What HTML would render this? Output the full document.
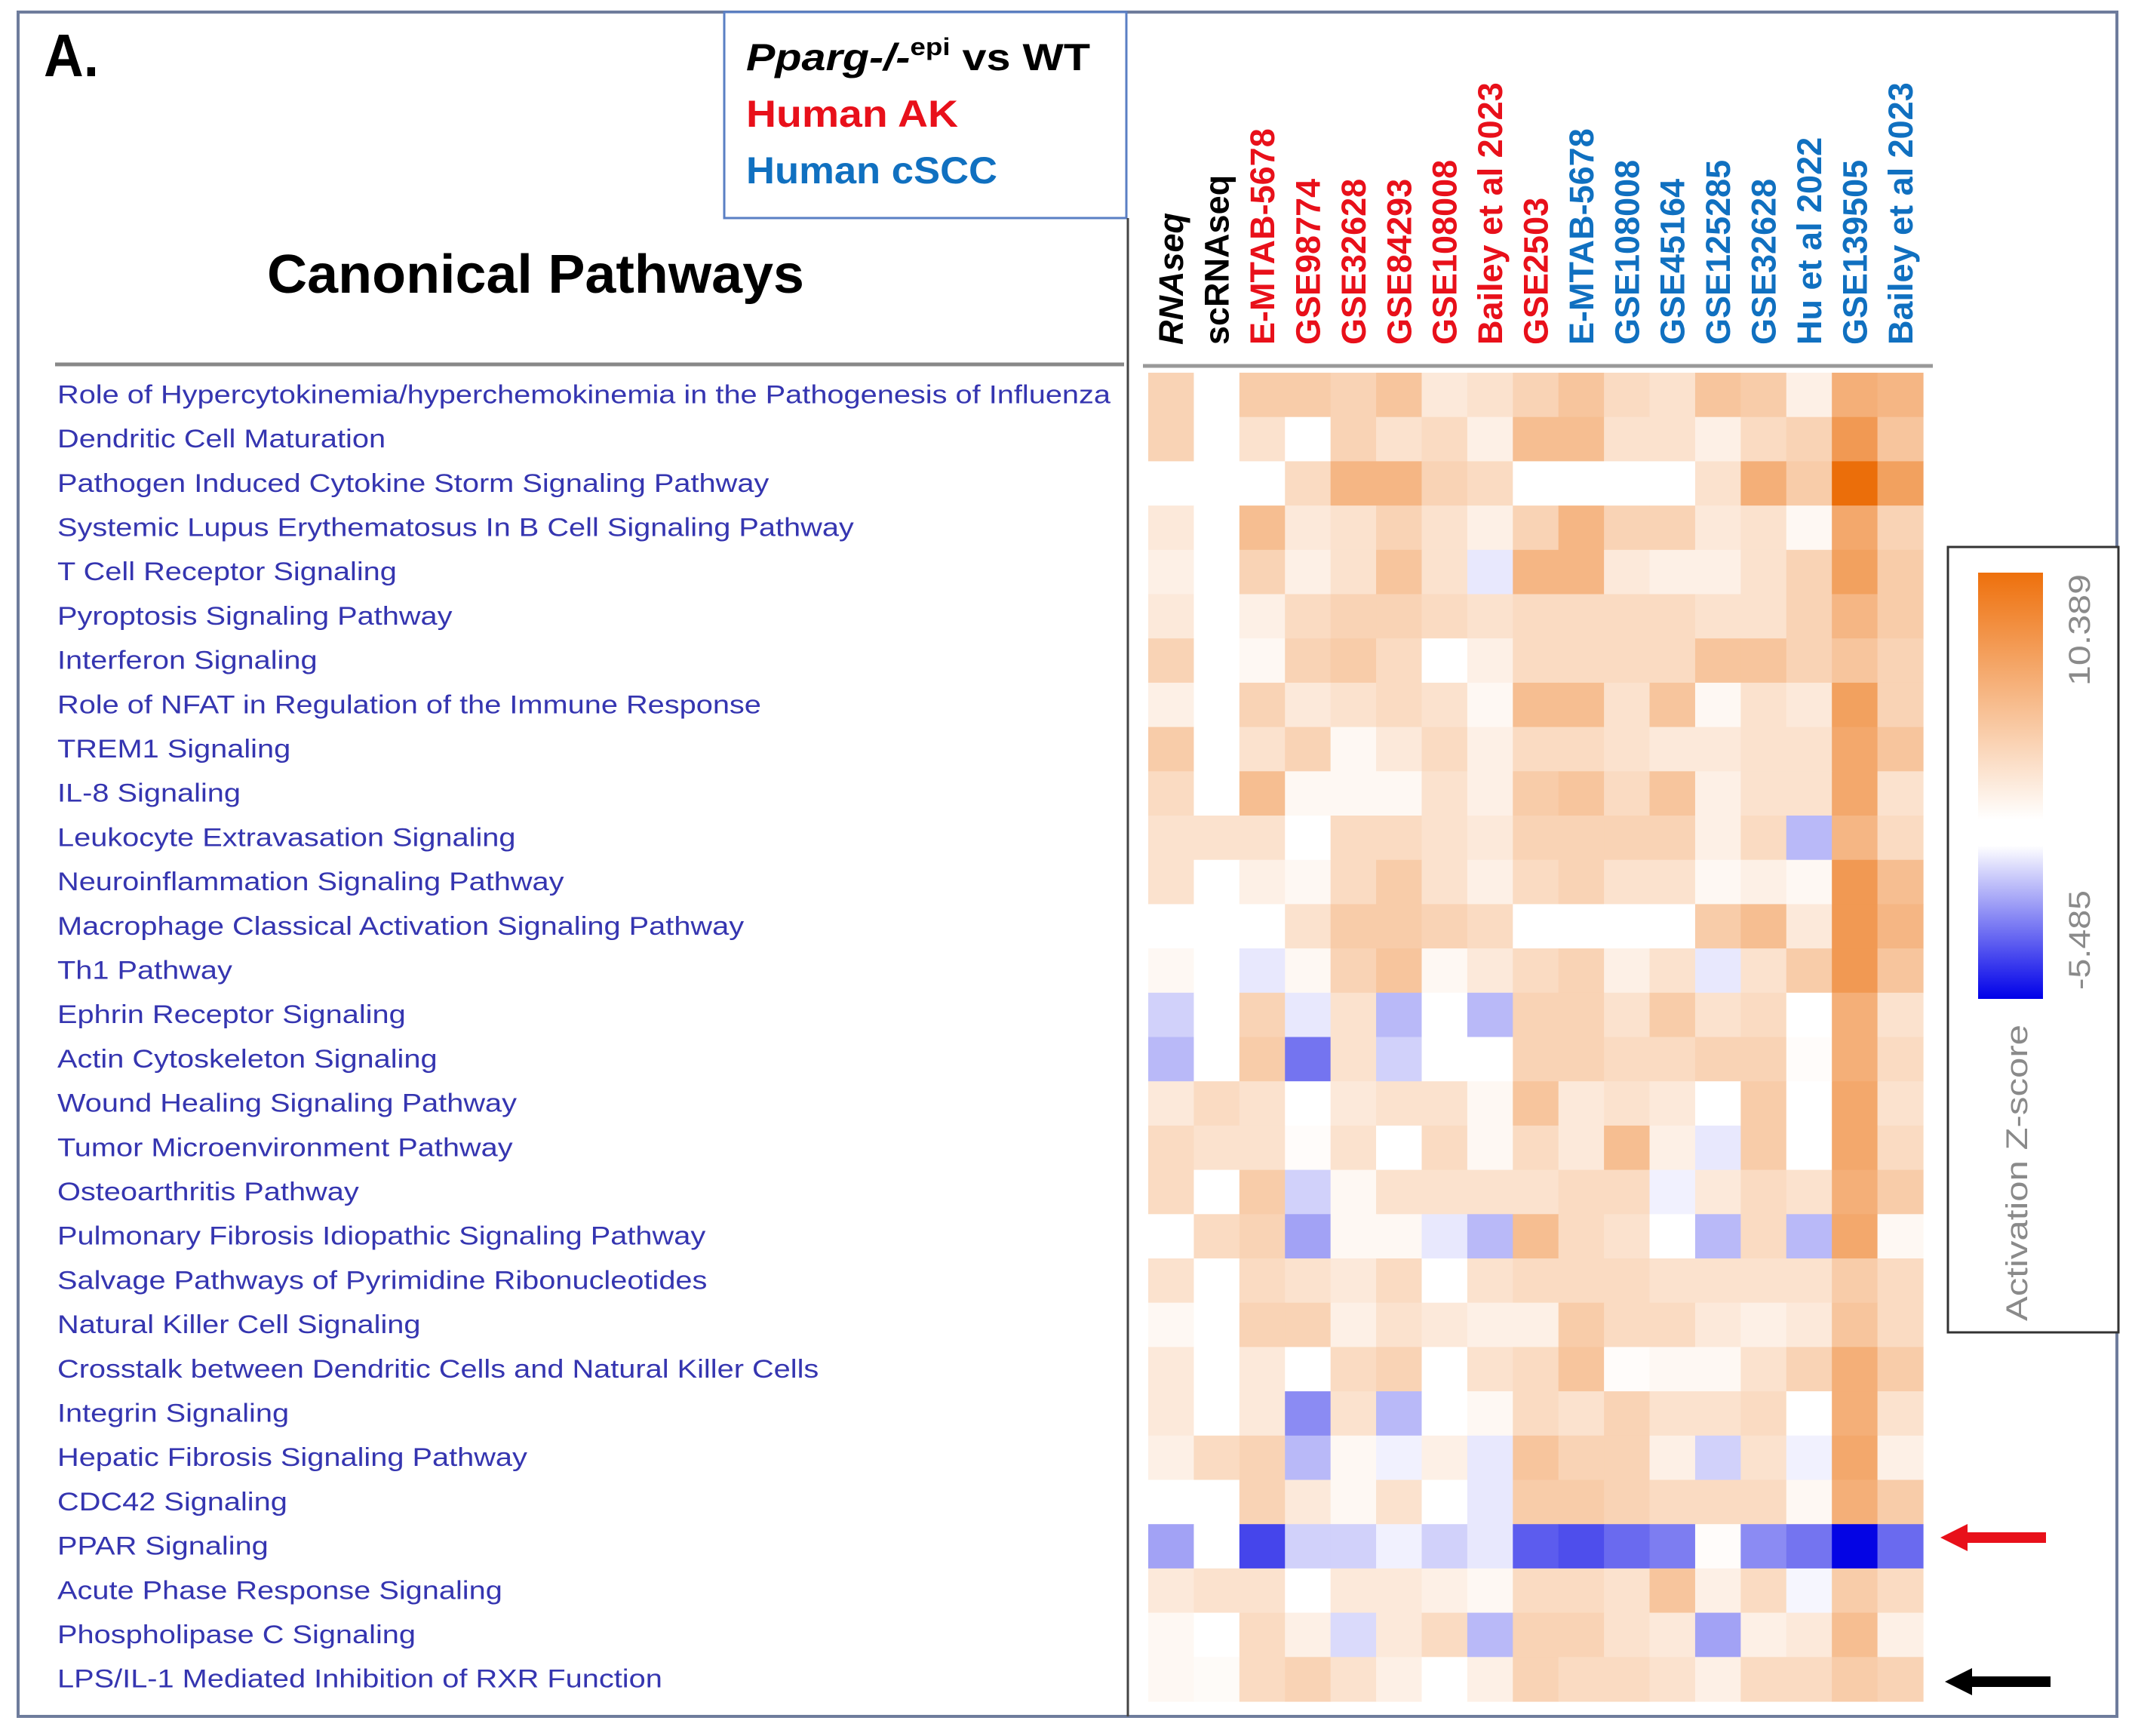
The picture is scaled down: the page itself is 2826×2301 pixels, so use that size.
<!DOCTYPE html>
<html><head><meta charset="utf-8"><style>
html,body{margin:0;padding:0;background:#fff;}
svg{display:block;}
text{font-family:"Liberation Sans",sans-serif;}
</style></head><body>
<svg id="chart" width="2826" height="2301" viewBox="0 0 2826 2301" xmlns="http://www.w3.org/2000/svg">
<defs>
<linearGradient id="cbar" x1="0" y1="0" x2="0" y2="1">
<stop offset="0" stop-color="#ee700c"/>
<stop offset="0.58" stop-color="#ffffff"/>
<stop offset="0.64" stop-color="#ffffff"/>
<stop offset="1" stop-color="#0000e8"/>
</linearGradient>
</defs>
<rect x="24" y="16" width="2782" height="2259" fill="#fff" stroke="#6e7c9c" stroke-width="4"/>
<text x="58" y="101" font-size="80" font-weight="bold" textLength="73" lengthAdjust="spacingAndGlyphs">A.</text>
<g>
<rect x="960" y="16" width="533" height="273" fill="#fff" stroke="#5a7fc4" stroke-width="3"/>
<text x="989" y="93" font-size="50" font-weight="bold" textLength="456" lengthAdjust="spacingAndGlyphs"><tspan font-style="italic">Pparg-/-</tspan><tspan font-size="32" dy="-20">epi</tspan><tspan dy="20"> vs WT</tspan></text>
<text x="989" y="168" font-size="50" font-weight="bold" fill="#e8101a" textLength="281" lengthAdjust="spacingAndGlyphs">Human AK</text>
<text x="989" y="243" font-size="50" font-weight="bold" fill="#1070c0" textLength="333" lengthAdjust="spacingAndGlyphs">Human cSCC</text>
</g>
<text x="354" y="388" font-size="72" font-weight="bold" textLength="712" lengthAdjust="spacingAndGlyphs">Canonical Pathways</text>
<line x1="1495" y1="289" x2="1495" y2="2275" stroke="#444" stroke-width="3"/>
<line x1="73" y1="483" x2="1490" y2="483" stroke="#888" stroke-width="5"/>
<line x1="1515" y1="485" x2="2562" y2="485" stroke="#999" stroke-width="5"/>
<g id="cells"></g>
<g id="rowlabels"></g>
<g id="collabels"></g>
<g>
<rect x="2582" y="725" width="226" height="1041" fill="#fff" stroke="#333" stroke-width="3"/>
<rect x="2622" y="759" width="86" height="565" fill="url(#cbar)"/>
<text transform="translate(2770,909) rotate(-90)" font-size="40" fill="#8a8a8a" textLength="148" lengthAdjust="spacingAndGlyphs">10.389</text>
<text transform="translate(2770,1312) rotate(-90)" font-size="40" fill="#8a8a8a" textLength="132" lengthAdjust="spacingAndGlyphs">-5.485</text>
<text transform="translate(2687,1751) rotate(-90)" font-size="40" fill="#8a8a8a" textLength="393" lengthAdjust="spacingAndGlyphs">Activation Z-score</text>
</g>
<g>
<rect x="2600" y="2031" width="112" height="14" fill="#e8101a"/>
<polygon points="2572,2038 2608,2020 2608,2056" fill="#e8101a"/>
</g>
<g>
<rect x="2606" y="2222" width="112" height="14" fill="#000"/>
<polygon points="2578,2229 2614,2211 2614,2247" fill="#000"/>
</g>
</svg>
<script>
const pathways = ["Role of Hypercytokinemia/hyperchemokinemia in the Pathogenesis of Influenza","Dendritic Cell Maturation","Pathogen Induced Cytokine Storm Signaling Pathway","Systemic Lupus Erythematosus In B Cell Signaling Pathway","T Cell Receptor Signaling","Pyroptosis Signaling Pathway","Interferon Signaling","Role of NFAT in Regulation of the Immune Response","TREM1 Signaling","IL-8 Signaling","Leukocyte Extravasation Signaling","Neuroinflammation Signaling Pathway","Macrophage Classical Activation Signaling Pathway","Th1 Pathway","Ephrin Receptor Signaling","Actin Cytoskeleton Signaling","Wound Healing Signaling Pathway","Tumor Microenvironment Pathway","Osteoarthritis Pathway","Pulmonary Fibrosis Idiopathic Signaling Pathway","Salvage Pathways of Pyrimidine Ribonucleotides","Natural Killer Cell Signaling","Crosstalk between Dendritic Cells and Natural Killer Cells","Integrin Signaling","Hepatic Fibrosis Signaling Pathway","CDC42 Signaling","PPAR Signaling","Acute Phase Response Signaling","Phospholipase C Signaling","LPS/IL-1 Mediated Inhibition of RXR Function"];
const datasets = ["RNAseq","scRNAseq","E-MTAB-5678","GSE98774","GSE32628","GSE84293","GSE108008","Bailey et al 2023","GSE2503","E-MTAB-5678","GSE108008","GSE45164","GSE125285","GSE32628","Hu et al 2022","GSE139505","Bailey et al 2023"];
const datasetGroup = ["mouse","mouse","ak","ak","ak","ak","ak","ak","ak","cscc","cscc","cscc","cscc","cscc","cscc","cscc","cscc"];
const zRange = [-5.485, 10.389];
const zscores = [
[3,0,3.5,3.5,3,4,1.5,2,3,4,2.5,2,4,3.5,1,5.5,5],
[3,0,2,0,3,2,2.5,1,4.5,4.5,2,2,1,2.5,3,7,4],
[0,0,0,2.5,5,5,3,2.5,0,0,0,0,2,5.5,3.5,10,6.5],
[1.5,0,4.5,1.5,2,3,2,1,3,5,3,3,1.5,2,0.5,6,3],
[1,0,3,1,2,4,2,-0.5,5,5,1.5,1,1,2,3,6.5,3.5],
[1.5,0,1,2.5,3,3,2.5,2,2.5,2.5,2.5,2.5,2,2,3,5,3.5],
[3,0,0.5,3,3.5,2.5,0,1,2.5,2.5,2.5,2.5,4,4,3,4,3],
[1,0,3,1.5,2,2.5,2,0.5,4.5,4.5,2,4,0.5,2,1.5,6.5,3],
[3.5,0,2,3,0.5,1.5,2.5,1,2.5,2.5,2,1.5,1.5,2,2,6,4],
[2.5,0,4.5,0.5,0.5,0.5,2,1,3.5,4,2.5,4,1,2,2,6,2],
[2,2,2,0,2.5,2.5,2,1.5,3,3,3,3,1,2.5,-1.5,5,2.5],
[2,0,1,0.5,2.5,3.5,2,1,2.5,3,2,2,0.5,1,0.5,7,4.5],
[0,0,0,2,3.5,3.5,3,2.5,0,0,0,0,3.5,4.5,1.5,7,5],
[0.5,0,-0.5,0.5,3,4,0.5,1.5,2.5,3,1,2,-0.5,2,3.5,7,4],
[-1,0,3,-0.5,2,-1.5,0,-1.5,3,3,2,3.5,2,2.5,0,5.5,2],
[-1.5,0,3.5,-3,2,-1,0,0,3,3,2.5,2.5,3,3,0.2,5.5,2.5],
[1.5,2.5,2,0,1.5,2,2,0.5,4,1.5,2,1.5,0,3.5,0,6,2],
[2.5,2,2,0.2,2,0,2.5,0.5,2.5,1.5,4.5,1,-0.5,3.5,0,6,2.5],
[2.5,0,3.5,-1,0.5,2,2,2,2,2.5,2.5,-0.3,1.5,2.5,2,5.5,3.5],
[0,2.5,3,-2,0.5,0.5,-0.5,-1.5,4.5,2.5,2,0,-1.5,2.5,-1.5,6,0.5],
[2,0,2.5,2,1.5,2.5,0,2,2.5,2.5,2.5,2,2,2,2,3.5,2.5],
[0.5,0,3,3,1,2,1.5,1,1,3.5,2.5,2.5,1.5,1,1.5,4,2.5],
[1.5,0,1.5,0,2.5,3,0,2,2.5,4,0.2,0.5,0.5,2,3,5.5,3.5],
[1.5,0,1.5,-2.5,2,-1.5,0,0.5,2.5,2,3,2,2,2.5,0,5.5,2],
[1,2.5,3,-1.5,0.5,-0.3,1,-0.5,4,3,3,1,-1,2,-0.3,6,1],
[0,0,3,1.5,0.5,2,0,-0.5,3.5,3.5,3,2.5,2.5,2.5,0.5,5.5,3.5],
[-2,0,-4,-1,-1,-0.3,-1,-0.5,-3.5,-3.8,-3.2,-2.8,0.2,-2.5,-3,-5.4,-3.2],
[1.5,2,2,0,1.5,1.5,1,0.5,2.5,2.5,2,4,1,2.5,-0.2,3.5,2.5],
[0.5,0,2.5,1,-0.8,1.5,2.5,-1.5,3,3,2,1.5,-2,1,1.5,4.5,1],
[0.5,0.3,2.5,3,2,1,0,1,3,2.5,2.5,2,1,2.5,2.5,3.5,3]
];

const NS = "http://www.w3.org/2000/svg";
const X0 = 1522, X1 = 2549, Y0 = 494, Y1 = 2255;
const cw = (X1 - X0) / datasets.length;
const rh = (Y1 - Y0) / pathways.length;
function xPos(i){ return X0 + i * cw; }
function yPos(j){ return Y0 + j * rh; }
function color(v){
  let r,g,b;
  if (v >= 0){ const t = Math.min(1, v / zRange[1]);
    r = 255 + (234 - 255) * t; g = 255 + (104 - 255) * t; b = 255 + (0 - 255) * t;
  } else { const t = Math.min(1, v / zRange[0]);
    r = 255 * (1 - t); g = 255 * (1 - t); b = 255 + (228 - 255) * t; }
  return `rgb(${Math.round(r)},${Math.round(g)},${Math.round(b)})`;
}
const cells = document.getElementById('cells');
zscores.forEach((row, j) => {
  row.forEach((v, i) => {
    const r = document.createElementNS(NS, 'rect');
    
    
    r.setAttribute('x', xPos(i).toFixed(2));
    r.setAttribute('y', yPos(j).toFixed(2));
    r.setAttribute('width', (cw + 0.6).toFixed(2));
    r.setAttribute('height', (rh + 0.6).toFixed(2));
    r.setAttribute('fill', color(v));
    cells.appendChild(r);
  });
});
const rl = document.getElementById('rowlabels');
pathways.forEach((p, j) => {
  const t = document.createElementNS(NS, 'text');
  
  
  t.setAttribute('x', 76);
  t.setAttribute('y', (yPos(j) + rh / 2 + 11).toFixed(1));
  t.setAttribute('font-size', '34');
  t.setAttribute('fill', '#3535b0');
  t.textContent = p;
  rl.appendChild(t);
});
// fit the first (longest) label to reference width, scale all similarly
const first = rl.firstChild;
const scale = 1396 / first.getComputedTextLength();
Array.from(rl.children).forEach(t => {
  const w = t.getComputedTextLength() * scale;
  t.setAttribute('textLength', w.toFixed(1));
  t.setAttribute('lengthAdjust', 'spacingAndGlyphs');
});
const cl = document.getElementById('collabels');
const groupColor = {mouse:'#000', ak:'#e8101a', cscc:'#1070c0'};
datasets.forEach((d, i) => {
  const t = document.createElementNS(NS, 'text');
  
  
  const cx = xPos(i) + cw / 2 + 16;
  t.setAttribute('transform', `translate(${cx.toFixed(1)},457) rotate(-90)`);
  t.setAttribute('font-size', '45');
  t.setAttribute('font-weight', 'bold');
  if (i === 0) t.setAttribute('font-style', 'italic');
  t.setAttribute('fill', groupColor[datasetGroup[i]]);
  t.textContent = d;
  cl.appendChild(t);
});
</script>
</body></html>
